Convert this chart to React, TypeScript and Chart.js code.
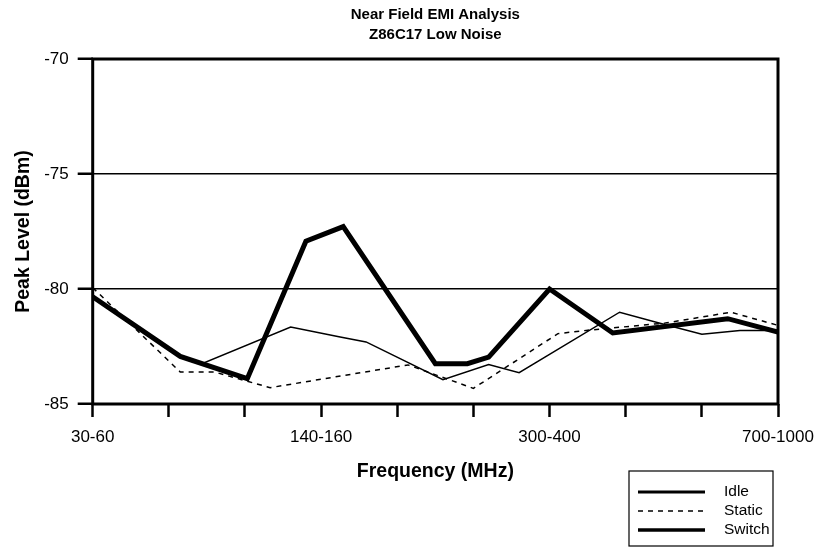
import React, { useEffect, useRef } from "react";
import { Chart, registerables } from "chart.js";

Chart.register(...registerables);

const titleLines = ["Near Field EMI Analysis", "Z86C17 Low Noise"];
const xAxisTitle = "Frequency (MHz)";
const yAxisTitle = "Peak Level (dBm)";
const xTickLabels = ["30-60", "", "", "140-160", "", "", "300-400", "", "", "700-1000"];
const yMin = -85;
const yMax = -70;
const yStep = 5;

const idleX = [0, 1.15, 1.45, 2.6, 3.25, 3.59, 4.6, 5.2, 5.6, 6.92, 7.45, 8.0, 8.5, 9.0];
const idleY = [-80.34, -82.93, -83.23, -81.65, -82.09, -82.3, -83.94, -83.28, -83.64, -81.01, -81.49, -81.97, -81.8, -81.8];

const staticX = [0, 1.15, 1.6, 2.33, 4.14, 5.0, 6.11, 6.48, 7.52, 8.38, 9.0];
const staticY = [-79.94, -83.61, -83.61, -84.29, -83.3, -84.32, -81.94, -81.8, -81.48, -81.01, -81.58];

const switchX = [0, 1.15, 2.03, 2.8, 3.29, 4.5, 4.92, 5.2, 6.0, 6.83, 8.34, 9.0];
const switchY = [-80.34, -82.93, -83.9, -77.92, -77.29, -83.25, -83.25, -82.96, -80.0, -81.91, -81.29, -81.87];

const seriesNames = ["Idle", "Static", "Switch"];

const FONT = "'Liberation Sans', Arial, Helvetica, sans-serif";

function pts(xs: number[], ys: number[]) {
  return xs.map((x, i) => ({ x, y: ys[i] }));
}

const decorPlugin = {
  id: "decor",
  afterDraw(chart: any) {
    const { ctx, chartArea } = chart;
    const { left, right, top, bottom } = chartArea;
    ctx.save();
    // plot border
    ctx.strokeStyle = "#000";
    ctx.lineWidth = 3;
    ctx.strokeRect(left, top, right - left, bottom - top);

    ctx.fillStyle = "#000";
    ctx.textAlign = "center";
    ctx.textBaseline = "middle";
    const cx = (left + right) / 2;
    ctx.font = `bold 15px ${FONT}`;
    ctx.fillText(titleLines[0], cx, 15);
    ctx.fillText(titleLines[1], cx, 35);

    ctx.font = `bold 19.5px ${FONT}`;
    ctx.fillText(xAxisTitle, cx, 472);

    ctx.save();
    ctx.translate(24, (top + bottom) / 2);
    ctx.rotate(-Math.PI / 2);
    ctx.fillText(yAxisTitle, 0, 0);
    ctx.restore();

    // legend
    const bx = 629, by = 471, bw = 144, bh = 75;
    ctx.lineWidth = 1.2;
    ctx.strokeRect(bx, by, bw, bh);
    const rows = [492, 511, 530];
    const styles = [
      { w: 3, dash: [] as number[] },
      { w: 1.5, dash: [5, 5] },
      { w: 3.5, dash: [] as number[] },
    ];
    ctx.font = `15.5px ${FONT}`;
    ctx.textAlign = "left";
    rows.forEach((ry, i) => {
      ctx.beginPath();
      ctx.setLineDash(styles[i].dash);
      ctx.lineWidth = styles[i].w;
      ctx.moveTo(638, ry);
      ctx.lineTo(705, ry);
      ctx.stroke();
      ctx.setLineDash([]);
      ctx.fillText(seriesNames[i], 724, ry);
    });
    ctx.restore();
  },
};

export default function App() {
  const ref = useRef<HTMLCanvasElement | null>(null);
  useEffect(() => {
    if (!ref.current) return;
    const chart = new Chart(ref.current, {
      type: "line",
      data: {
        datasets: [
          {
            label: seriesNames[0],
            data: pts(idleX, idleY),
            borderColor: "#000",
            borderWidth: 1.5,
            pointRadius: 0,
            tension: 0,
            borderJoinStyle: "miter",
          },
          {
            label: seriesNames[1],
            data: pts(staticX, staticY),
            borderColor: "#000",
            borderWidth: 1.5,
            borderDash: [5, 5],
            pointRadius: 0,
            tension: 0,
          },
          {
            label: seriesNames[2],
            data: pts(switchX, switchY),
            borderColor: "#000",
            borderWidth: 5,
            pointRadius: 0,
            tension: 0,
            borderJoinStyle: "miter",
          },
        ],
      },
      plugins: [decorPlugin],
      options: {
        animation: false,
        responsive: false,
        events: [],
        layout: { padding: { top: 59, right: 41, left: 0, bottom: 0 } },
        plugins: { legend: { display: false }, title: { display: false }, tooltip: { enabled: false } },
        scales: {
          x: {
            type: "linear",
            min: 0,
            max: xTickLabels.length - 1,
            afterFit(scale: any) {
              scale.height = 149;
              scale.paddingLeft = 0;
              scale.paddingRight = 0;
            },
            afterBuildTicks(scale: any) {
              scale.ticks = xTickLabels.map((_, i) => ({ value: i }));
            },
            ticks: {
              autoSkip: false,
              maxRotation: 0,
              padding: 10,
              color: "#000",
              font: { family: FONT, size: 17 },
              callback: (v: any) => xTickLabels[Math.round(Number(v))] ?? "",
            },
            grid: {
              drawOnChartArea: false,
              drawTicks: true,
              tickLength: 13,
              tickWidth: 2.5,
              tickColor: "#000",
            },
            border: { display: false },
          },
          y: {
            type: "linear",
            min: yMin,
            max: yMax,
            afterFit(scale: any) {
              scale.width = 92.7;
              scale.paddingTop = 0;
              scale.paddingBottom = 0;
            },
            ticks: {
              stepSize: yStep,
              padding: 9,
              color: "#000",
              font: { family: FONT, size: 17 },
            },
            grid: {
              color: "#000",
              lineWidth: 1.5,
              drawTicks: true,
              tickLength: 15,
              tickWidth: 2.5,
              tickColor: "#000",
            },
            border: { display: false },
          },
        },
      },
    } as any);
    return () => chart.destroy();
  }, []);
  return (
    <div style={{ position: "fixed", left: 0, top: 0, width: 819, height: 553, background: "#fff" }}>
      <canvas ref={ref} width={819} height={553} style={{ width: 819, height: 553 }} />
    </div>
  );
}
